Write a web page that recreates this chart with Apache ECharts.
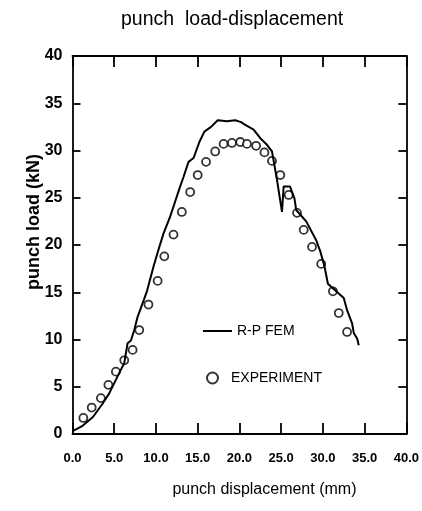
<!DOCTYPE html>
<html>
<head>
<meta charset="utf-8">
<script src="https://cdn.jsdelivr.net/npm/echarts@6/dist/echarts.min.js"></script>
<style>
html,body{margin:0;padding:0;background:#fff;}
#chart{width:422px;height:511px;}
</style>
</head>
<body>
<div id="chart"></div>
<script>
// Data
var femX = [0, 1.1, 2.45, 3.6, 4.4, 5.4, 6.2, 6.6, 7.0, 7.4, 7.8, 8.55, 8.95, 9.7, 10.3, 10.9, 11.7, 12.3, 12.9, 13.3, 13.9, 14.5, 15.2, 15.8, 16.6, 17.4, 18.5, 19.5, 20.2, 20.7, 21.7, 22.5, 23.3, 23.9, 24.5, 25.1, 25.3, 26.05, 26.6, 26.8, 28.0, 29.2, 29.7, 30.2, 30.6, 31.6, 32.5, 32.9, 33.5, 33.7, 34.1, 34.3];
var femY = [0.3, 0.8, 1.8, 3.2, 4.3, 6.1, 7.5, 9.6, 9.9, 11.0, 12.4, 14.2, 15.2, 17.7, 19.5, 21.2, 23.0, 24.6, 26.2, 27.2, 28.8, 29.2, 30.9, 32.0, 32.5, 33.2, 33.1, 33.2, 33.0, 32.7, 32.2, 31.3, 30.6, 29.9, 26.9, 23.5, 26.2, 26.2, 24.9, 23.7, 22.5, 20.5, 19.3, 17.7, 15.9, 15.1, 14.4, 13.1, 11.7, 10.7, 10.1, 9.4];
var expX = [1.3, 2.3, 3.4, 4.3, 5.2, 6.2, 7.2, 8.0, 9.1, 10.2, 11.0, 12.1, 13.1, 14.1, 15.0, 16.0, 17.1, 18.1, 19.1, 20.1, 20.9, 22.0, 23.0, 23.9, 24.9, 25.9, 26.9, 27.7, 28.7, 29.8, 31.2, 31.9, 32.9];
var expY = [1.7, 2.8, 3.8, 5.2, 6.6, 7.8, 8.9, 11.0, 13.7, 16.2, 18.8, 21.1, 23.5, 25.6, 27.4, 28.8, 29.9, 30.7, 30.8, 30.9, 30.7, 30.5, 29.8, 28.9, 27.4, 25.3, 23.4, 21.6, 19.8, 18.0, 15.1, 12.8, 10.8];
var seriesNames = ['R-P FEM', 'EXPERIMENT'];
var titleText = 'punch  load-displacement';
var xName = 'punch displacement (mm)';
var yName = 'punch load (kN)';

function pairs(xs, ys) { return xs.map(function (x, i) { return [x, ys[i]]; }); }

var sans = '"Liberation Sans", Arial, sans-serif';
var lineStyle = { color: '#000', width: 1.8 };

var chart = echarts.init(document.getElementById('chart'), null, { renderer: 'canvas' });
chart.setOption({
  animation: false,
  backgroundColor: '#fff',
  title: {
    text: titleText,
    left: 116, top: 5,
    textStyle: { fontFamily: sans, fontSize: 19.5, fontWeight: 'normal', color: '#000' }
  },
  legend: [{
    orient: 'vertical',
    left: 198, top: 319,
    itemWidth: 29, itemHeight: 2,
    icon: 'rect',
    itemStyle: { color: '#000' },
    textStyle: { fontFamily: sans, fontSize: 14, color: '#000' },
    data: [seriesNames[0]]
  }, {
    orient: 'vertical',
    left: 201, top: 366,
    itemWidth: 27, itemHeight: 11,
    icon: 'circle',
    textStyle: { fontFamily: sans, fontSize: 14, color: '#000' },
    data: [seriesNames[1]]
  }],
  grid: { left: 72.5, right: 10.5, top: 56, bottom: 77 },
  xAxis: [{
    type: 'value', min: 0, max: 40, interval: 5,
    position: 'bottom',
    axisLine: { onZero: false, lineStyle: lineStyle },
    axisTick: { inside: true, length: 11, lineStyle: lineStyle },
    splitLine: { show: false },
    axisLabel: {
      margin: 18, color: '#000', fontFamily: sans, fontSize: 13, fontWeight: 'bold',
      formatter: function (v) { return v.toFixed(1); }
    },
    name: xName, nameLocation: 'middle', nameGap: 48, nameMoveOverlap: false,
    nameTextStyle: { fontFamily: sans, fontSize: 16, color: '#000', padding: [0, 0, 0, 50] }
  }, {
    type: 'value', min: 0, max: 40, interval: 5,
    position: 'top',
    axisLine: { onZero: false, lineStyle: lineStyle },
    axisTick: { inside: true, length: 11, lineStyle: lineStyle },
    splitLine: { show: false },
    axisLabel: { show: false }
  }],
  yAxis: [{
    type: 'value', min: 0, max: 40, interval: 5,
    position: 'left',
    axisLine: { onZero: false, lineStyle: lineStyle },
    axisTick: { inside: true, length: 8, lineStyle: lineStyle },
    splitLine: { show: false },
    axisLabel: { margin: 10, color: '#000', fontFamily: sans, fontSize: 16, fontWeight: 'bold' },
    name: yName, nameLocation: 'middle', nameGap: 29, nameRotate: 90, nameMoveOverlap: false,
    nameTextStyle: { fontFamily: sans, fontSize: 18, fontWeight: 'bold', color: '#000', padding: [0, 0, 0, 46] }
  }, {
    type: 'value', min: 0, max: 40, interval: 5,
    position: 'right',
    axisLine: { onZero: false, lineStyle: lineStyle },
    axisTick: { inside: true, length: 8, lineStyle: lineStyle },
    splitLine: { show: false },
    axisLabel: { show: false }
  }],
  series: [{
    name: seriesNames[0],
    type: 'line',
    data: pairs(femX, femY),
    symbol: 'none',
    lineStyle: { color: '#000', width: 2 },
    itemStyle: { color: '#000' }
  }, {
    name: seriesNames[1],
    type: 'scatter',
    data: pairs(expX, expY),
    symbol: 'circle',
    symbolSize: 8,
    itemStyle: { color: '#fff', borderColor: '#000', borderWidth: 1.8 }
  }]
});
</script>
</body>
</html>
